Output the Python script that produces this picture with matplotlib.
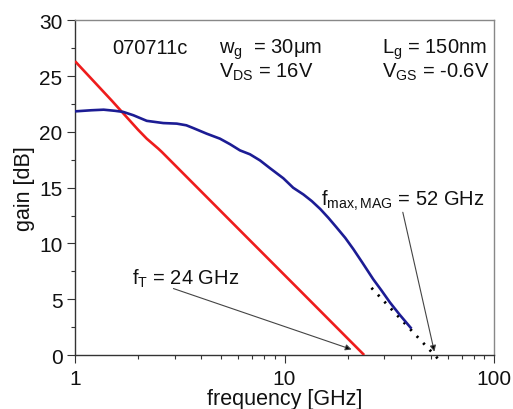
import matplotlib
matplotlib.use("Agg")
import matplotlib.pyplot as plt
from matplotlib.ticker import FixedLocator, NullFormatter, MultipleLocator, LogLocator

plt.rcParams['font.family'] = ['Liberation Sans', 'DejaVu Sans']
plt.rcParams['mathtext.fontset'] = 'custom'
plt.rcParams['mathtext.rm'] = 'Liberation Sans'
plt.rcParams['mathtext.it'] = 'Liberation Sans:italic'

# ---- data ----
red_f = [1.0, 1.5, 2.0, 2.2, 2.5, 2.6, 4.0, 6.4, 12.0, 20.0, 24.0]
red_g = [26.35, 22.8, 20.2, 19.4, 18.5, 18.2, 14.67, 10.82, 5.68, 1.49, 0.0]

blue_f = [1.0, 1.2, 1.37, 1.55, 1.7, 1.9, 2.2, 2.64, 3.06, 3.4, 3.67, 4.25, 4.92,
          5.5, 6.13, 6.84, 7.64, 8.53, 9.87, 11.0, 12.3, 13.5, 14.8, 16.2, 17.7,
          19.5, 21.3, 23.5, 26.5, 29.0, 31.9, 35.5, 40.0]
blue_g = [21.85, 21.95, 22.0, 21.9, 21.8, 21.5, 21.0, 20.8, 20.75, 20.6, 20.35, 19.85, 19.4,
          18.9, 18.35, 18.0, 17.45, 16.75, 15.85, 15.0, 14.4, 13.8, 13.1, 12.3, 11.45,
          10.5, 9.5, 8.3, 6.8, 5.8, 4.7, 3.6, 2.45]

extrap_f = [26.0, 55.0]
extrap_g = [6.02, -0.49]

ft_arrow = ((2.95, 5.96), (20.9, 0.5))
fmax_arrow = ((36.7, 12.8), (51.9, 0.3))

x_ticks = [1, 10, 100]
x_labels = ['1', '10', '100']
y_ticks = [0, 5, 10, 15, 20, 25, 30]

fig = plt.figure(figsize=(5.13, 4.10), dpi=100)
ax = fig.add_axes([0.1462, 0.1317, 0.8168, 0.8159])

ax.plot(red_f, red_g, color='#ee1c1c', lw=1.9, solid_capstyle='butt', zorder=3)
ax.plot(blue_f, blue_g, color='#1c1c94', lw=1.9, zorder=3)
ax.plot(extrap_f, extrap_g, color='black', lw=2.0, linestyle=(0, (0.8, 2.6)), zorder=2, clip_on=False)

ax.set_xscale('log')
ax.set_xlim(1, 100)
ax.set_ylim(0, 30)
ax.xaxis.set_major_locator(FixedLocator(x_ticks))
ax.set_xticklabels(x_labels)
ax.xaxis.set_minor_locator(LogLocator(base=10, subs=range(2, 10)))
ax.xaxis.set_minor_formatter(NullFormatter())
ax.set_yticks(y_ticks)
ax.yaxis.set_minor_locator(MultipleLocator(2.5))

ax.tick_params(which='major', direction='out', length=6, width=0.8, labelsize=15,
               colors='#333333', labelcolor='#111111')
ax.tick_params(axis='y', which='major', pad=3)
ax.tick_params(axis='x', which='major', pad=4)
ax.tick_params(which='minor', direction='out', length=3, width=0.8, colors='#333333')
ax.tick_params(top=False, right=False)
for s in ['left', 'bottom']:
    ax.spines[s].set_color('#333333')
    ax.spines[s].set_linewidth(1.0)
for s in ['top', 'right']:
    ax.spines[s].set_color('#888888')
    ax.spines[s].set_linewidth(1.0)

ax.set_xlabel('frequency [GHz]', fontsize=15.5, labelpad=0, color='#111111')
ax.set_ylabel('gain [dB]', fontsize=15.5, labelpad=3, color='#111111')

tk = dict(fontsize=14.5, transform=ax.transAxes, va='baseline', ha='left', color='#111111')
def ax_xy(px, py):
    return ((px - 75) / 419.0, (356 - py) / 334.5)

ax.text(*ax_xy(112, 54), '070711c', **tk)
ax.text(*ax_xy(219, 54), r'w$_{\mathrm{g}}$  = 30μm', **tk)
ax.text(*ax_xy(382, 54), r'L$_{\mathrm{g}}$ = 150nm', **tk)
ax.text(*ax_xy(219, 78), r'V$_{\mathrm{DS}}$ = 16V', **tk)
ax.text(*ax_xy(382, 78), r'V$_{\mathrm{GS}}$ = -0.6V', **tk)
ax.text(*ax_xy(132, 285), r'f$_{\mathrm{T}}$ = 24 GHz', **tk)
ax.text(*ax_xy(321, 206), r'f$_{\mathrm{max,MAG}}$ = 52 GHz', **tk)

for (start, end) in [ft_arrow, fmax_arrow]:
    ax.annotate('', xy=end, xytext=start,
                arrowprops=dict(arrowstyle='-|>', color='#444444', lw=0.8,
                                mutation_scale=9, shrinkA=0, shrinkB=0,
                                fc='black'))

fig.savefig('out.png', dpi=100)
